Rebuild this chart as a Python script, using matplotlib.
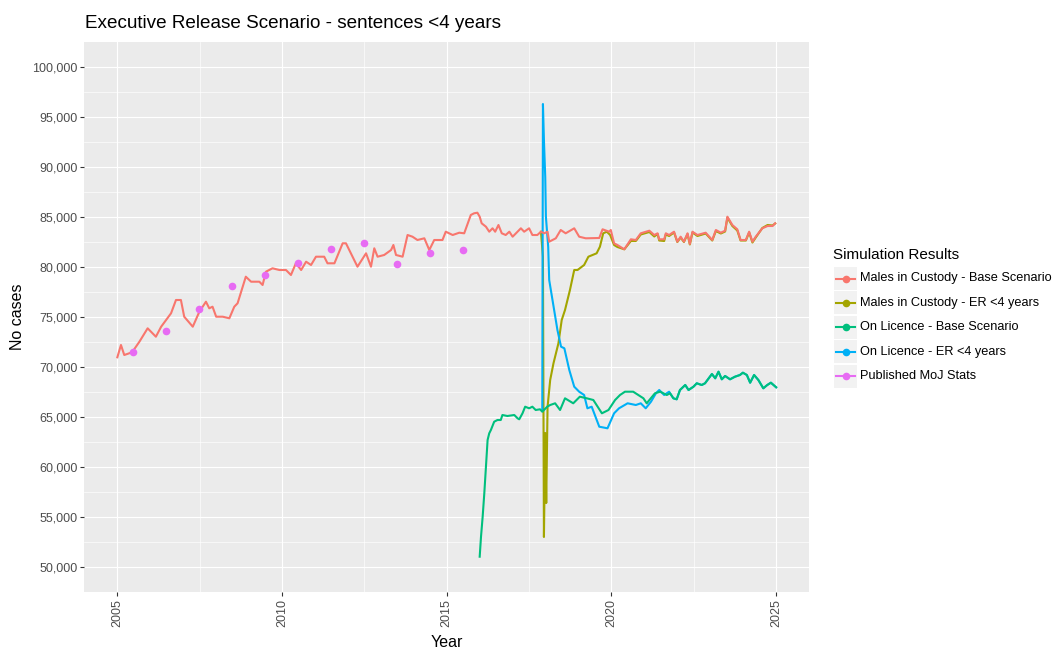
import matplotlib
matplotlib.use('Agg')
import matplotlib.pyplot as plt
from matplotlib.patches import Rectangle
from matplotlib.lines import Line2D
from matplotlib.ticker import FuncFormatter

plt.rcParams['font.family'] = ['Liberation Sans', 'DejaVu Sans']

# ---- data ----
series_names = ['Males in Custody - Base Scenario', 'Males in Custody - ER <4 years',
                'On Licence - Base Scenario', 'On Licence - ER <4 years',
                'Published MoJ Stats']
series_colors = ['#F8766D', '#A3A500', '#00BF7D', '#00B0F6', '#E76BF3']

custody_base_years = [2005.00, 2005.11, 2005.21, 2005.36, 2005.46, 2005.67, 2005.92, 2006.17, 2006.33,
                      2006.63, 2006.78, 2006.93, 2007.03, 2007.29, 2007.49, 2007.69, 2007.79, 2007.89,
                      2008.00, 2008.20, 2008.40, 2008.55, 2008.65, 2008.90, 2009.06, 2009.31, 2009.41,
                      2009.51, 2009.71, 2009.92, 2010.12, 2010.27, 2010.42, 2010.58, 2010.73, 2010.88,
                      2011.03, 2011.28, 2011.38, 2011.59, 2011.84, 2011.94, 2012.29, 2012.55, 2012.70,
                      2012.80, 2012.90, 2013.10, 2013.31, 2013.38, 2013.46, 2013.66, 2013.81, 2013.96,
                      2014.11, 2014.32, 2014.47, 2014.62, 2014.87, 2014.97, 2015.18, 2015.38, 2015.53,
                      2015.73, 2015.83, 2015.93, 2016.00, 2016.06, 2016.19, 2016.29, 2016.39, 2016.47,
                      2016.57, 2016.67, 2016.79, 2016.90, 2017.00, 2017.15, 2017.25, 2017.35, 2017.50,
                      2017.60, 2017.75, 2017.86, 2017.96, 2018.06, 2018.11, 2018.31, 2018.46, 2018.61,
                      2018.87, 2019.02, 2019.22, 2019.63, 2019.73, 2019.93, 2019.98,
                      2020.08, 2020.18, 2020.39, 2020.59, 2020.74, 2020.89, 2021.15, 2021.30, 2021.40,
                      2021.45, 2021.60, 2021.65, 2021.75, 2021.90, 2022.00, 2022.10, 2022.20, 2022.31,
                      2022.38, 2022.46, 2022.61, 2022.86, 2023.06, 2023.17, 2023.32, 2023.45, 2023.52,
                      2023.67, 2023.82, 2023.92, 2024.08, 2024.18, 2024.28, 2024.38, 2024.58, 2024.74,
                      2024.89, 2024.97]
custody_base = [70970, 72200, 71200, 71370, 71530, 72530, 73870, 73030, 74030,
                75370, 76700, 76700, 75030, 74030, 75530, 76530, 75870, 76030,
                75030, 75030, 74870, 76030, 76370, 79030, 78530, 78530, 78200,
                79530, 79870, 79700, 79700, 79200, 80370, 79700, 80530, 80200,
                81030, 81030, 80370, 80370, 82370, 82370, 80030, 81370, 80030,
                81870, 81030, 81200, 81700, 82200, 81200, 81030, 83200, 83030,
                82700, 82870, 81700, 82700, 82700, 83530, 83200, 83430, 83370,
                85200, 85370, 85430, 85030, 84370, 84030, 83530, 83870, 83530,
                84200, 83370, 83200, 83530, 83030, 83530, 83870, 83530, 83870,
                83200, 83200, 83530, 83370, 83530, 82530, 82870, 83700, 83370,
                83870, 83030, 82870, 82900, 83770, 83530, 83700,
                82370, 82200, 81770, 82770, 82700, 83370, 83630, 83200, 83370,
                82770, 82770, 83370, 83200, 83530, 82530, 83030, 82530, 83370,
                82300, 83530, 83200, 83430, 82700, 83700, 83430, 83630, 85030,
                84200, 83770, 82700, 82700, 83530, 82530, 83030, 83870, 84100,
                84100, 84370]

custody_er_years = [2017.86, 2017.92, 2017.95, 2017.99, 2018.02, 2018.06, 2018.14, 2018.24, 2018.39,
                    2018.49, 2018.59, 2018.74, 2018.87, 2018.97, 2019.17, 2019.30, 2019.55, 2019.65,
                    2019.75, 2019.86, 2019.96,
                    2020.08, 2020.18, 2020.39, 2020.59, 2020.74, 2020.89, 2021.15, 2021.30, 2021.40,
                    2021.45, 2021.60, 2021.65, 2021.75, 2021.90, 2022.00, 2022.10, 2022.20, 2022.31,
                    2022.38, 2022.46, 2022.61, 2022.86, 2023.06, 2023.17, 2023.32, 2023.45, 2023.52,
                    2023.67, 2023.82, 2023.92, 2024.08, 2024.18, 2024.28, 2024.38, 2024.58, 2024.74,
                    2024.89, 2024.97]
custody_er = [83530, 81000, 53000, 63400, 56400, 66000, 68700, 70370, 72370,
              74700, 75700, 77700, 79700, 79700, 80200, 81030, 81370, 82030,
              83370, 83530, 83200,
              82200, 82000, 81770, 82600, 82600, 83250, 83500, 83050, 83300,
              82650, 82600, 83250, 83100, 83450, 82500, 82950, 82500, 83300,
              82250, 83450, 83100, 83350, 82650, 83600, 83350, 83550, 84950,
              84100, 83650, 82650, 82650, 83450, 82450, 82950, 83900, 84200,
              84150, 84350]

licence_base_years = [2016.00, 2016.04, 2016.09, 2016.14, 2016.19, 2016.24, 2016.29, 2016.34, 2016.44,
                      2016.54, 2016.64, 2016.69, 2016.84, 2017.05, 2017.15, 2017.20, 2017.30, 2017.38,
                      2017.50, 2017.60, 2017.70, 2017.83, 2017.90, 2018.05, 2018.14, 2018.29, 2018.44,
                      2018.59, 2018.84, 2019.04, 2019.25, 2019.45, 2019.71, 2019.91, 2020.11, 2020.26,
                      2020.41, 2020.66, 2020.97, 2021.07, 2021.32, 2021.48, 2021.68, 2021.78,
                      2021.88, 2021.98, 2022.08, 2022.24, 2022.34, 2022.49, 2022.59, 2022.74, 2022.84,
                      2023.05, 2023.15, 2023.25, 2023.35, 2023.45, 2023.60, 2023.75, 2023.90, 2023.99,
                      2024.11, 2024.21, 2024.33, 2024.46, 2024.61, 2024.73, 2024.84, 2024.92, 2025.00]
licence_base = [51030, 53030, 55030, 57370, 60030, 62700, 63370, 63700, 64530,
                64700, 64700, 65200, 65100, 65200, 64870, 64770, 65370, 66030,
                65870, 66030, 65700, 65770, 65530, 66030, 66200, 66370, 65700,
                66870, 66370, 67030, 66870, 66700, 65370, 65700, 66700, 67200,
                67530, 67530, 66870, 66370, 67370, 67530, 67200, 67370,
                66870, 66770, 67700, 68200, 67700, 68030, 68370, 68200, 68370,
                69300, 68870, 69530, 68770, 69100, 68770, 69030, 69200, 69430,
                69200, 68430, 69200, 68700, 67870, 68200, 68430, 68200, 67970]

licence_er_years = [2017.90, 2017.92, 2017.95, 2017.99, 2018.01, 2018.08, 2018.11, 2018.21, 2018.36,
                    2018.47, 2018.57, 2018.72, 2018.87, 2019.02, 2019.17, 2019.27, 2019.40, 2019.63,
                    2019.88, 2020.08, 2020.23, 2020.49, 2020.74, 2020.89, 2021.04, 2021.20, 2021.35,
                    2021.45, 2021.60, 2021.75]
licence_er = [65600, 96300, 92700, 89000, 85030, 82000, 78700, 76700, 73700,
              72030, 71870, 69700, 68030, 67530, 67200, 65870, 66030, 64030,
              63870, 65370, 65870, 66370, 66200, 66370, 65870, 66530, 67370,
              67700, 67200, 67530]
# after 2021.75 the ER licence line sits on the base licence line
licence_er_years = licence_er_years + licence_base_years[43:]
licence_er = licence_er + licence_base[43:]

moj_years = [2005.49, 2006.49, 2007.49, 2008.49, 2009.49, 2010.49, 2011.49, 2012.49,
             2013.49, 2014.49, 2015.49]
moj_stats = [71550, 73650, 75850, 78150, 79200, 80450, 81800, 82450, 80350, 81400, 81700]

# ---- figure ----
W, H = 1055, 650
fig = plt.figure(figsize=(W / 100, H / 100), dpi=100)
ax = fig.add_axes([84.4 / W, 1 - 592 / H, (809.1 - 84.4) / W, (592 - 42) / H])
ax.set_facecolor('#EBEBEB')
for s in ax.spines.values():
    s.set_visible(False)

ax.set_xlim(2004, 2026)
ax.set_ylim(47500, 102500)
ax.set_xticks([2005, 2010, 2015, 2020, 2025])
ax.set_xticks([2007.5, 2012.5, 2017.5, 2022.5], minor=True)
ax.set_yticks(range(50000, 100001, 5000))
ax.set_yticks(range(52500, 100000, 5000), minor=True)
ax.grid(which='major', color='white', lw=0.85)
ax.grid(which='minor', color='white', lw=0.45)
ax.set_axisbelow(True)
ax.tick_params(which='minor', length=0)
ax.tick_params(which='major', length=3, width=0.8, color='#333333',
               labelcolor='#4D4D4D', labelsize=9, pad=2)
ax.yaxis.set_major_formatter(FuncFormatter(lambda v, p: f'{v:,.0f}'))
plt.setp(ax.get_xticklabels(), rotation=90, va='top', ha='center')

lw = 1.5
ax.plot(custody_er_years, custody_er, color=series_colors[1], lw=lw, zorder=2)
ax.plot(licence_er_years, licence_er, color=series_colors[3], lw=lw, zorder=2)
ax.plot(custody_base_years, custody_base, color=series_colors[0], lw=lw, zorder=3)
ax.plot(licence_base_years, licence_base, color=series_colors[2], lw=lw, zorder=3)
ax.plot(moj_years, moj_stats, 'o', color=series_colors[4], ms=5.5, mec='none', zorder=4)

ax.set_xlabel('Year', fontsize=11.5, labelpad=6)
ax.set_ylabel('No cases', fontsize=11.5, labelpad=5)
fig.text(85 / W, 1 - 24 / H, 'Executive Release Scenario - sentences <4 years',
         fontsize=13.6, va='center', ha='left')

# legend drawn ggplot style (grey key boxes)
fig.text(833 / W, 1 - 255 / H, 'Simulation Results', fontsize=11, va='center', ha='left')
for i, (name, col) in enumerate(zip(series_names, series_colors)):
    yc = 278.5 + i * 24.4
    fig.add_artist(Rectangle((834 / W, 1 - (yc + 11.5) / H), 23 / W, 23 / H,
                             transform=fig.transFigure, fc='#F2F2F2', ec='none'))
    fig.add_artist(Line2D([836 / W, 855 / W], [1 - yc / H, 1 - yc / H], color=col, lw=lw,
                          transform=fig.transFigure))
    fig.add_artist(Line2D([845.5 / W], [1 - yc / H], marker='o', ms=5.5, color=col, mec='none',
                          transform=fig.transFigure))
    fig.text(860 / W, 1 - yc / H, name, fontsize=9.2, va='center', ha='left')

fig.savefig('out.png', dpi=100)
